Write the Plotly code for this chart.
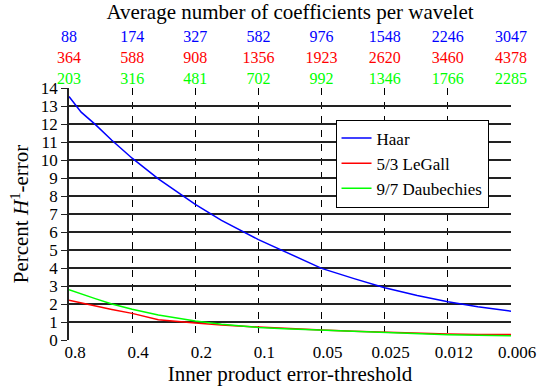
import numpy as np
import plotly.graph_objects as go

# thresholds at which the errors were measured
thresholds = [0.8, 0.7, 0.6, 0.5, 0.4, 0.3, 0.2, 0.15, 0.1, 0.075, 0.05,
              0.035, 0.025, 0.0175, 0.0125, 0.009, 0.00625]
haar = [13.53, 12.66, 11.98, 11.1, 10.1, 8.95, 7.53, 6.65, 5.58, 4.9, 3.98,
        3.41, 2.9, 2.47, 2.13, 1.85, 1.6]
legall = [2.21, 2.06, 1.9, 1.7, 1.48, 1.13, 0.95, 0.83, 0.72, 0.64, 0.56,
          0.49, 0.43, 0.38, 0.33, 0.31, 0.30]
daub = [2.79, 2.55, 2.3, 2.0, 1.71, 1.39, 1.06, 0.88, 0.70, 0.63, 0.55,
        0.48, 0.42, 0.35, 0.29, 0.26, 0.23]

# axis ticks
tick_vals = [0.8, 0.4, 0.2, 0.1, 0.05, 0.025, 0.0125, 0.00625]
tick_text = ["0.8", "0.4", "0.2", "0.1", "0.05", "0.025", "0.012", "0.006"]
haar_counts = [88, 174, 327, 582, 976, 1548, 2246, 3047]
legall_counts = [364, 588, 908, 1356, 1923, 2620, 3460, 4378]
daub_counts = [203, 316, 481, 702, 992, 1346, 1766, 2285]

BLUE, RED, GREEN = "#0000ff", "#ff0000", "#00ff00"
FONT = "Liberation Serif"


def f(size):
    return dict(family=FONT, size=size, color="black")


top_text = [
    f'<span style="color:{BLUE}">{a}</span><br>'
    f'<span style="color:{RED}">{b}</span><br>'
    f'<span style="color:{GREEN}">{c}</span>'
    for a, b, c in zip(haar_counts, legall_counts, daub_counts)
]

fig = go.Figure()
fig.add_trace(go.Scatter(x=thresholds, y=haar, mode="lines", name="Haar",
                         line=dict(color=BLUE, width=1.5)))
fig.add_trace(go.Scatter(x=thresholds, y=legall, mode="lines", name="5/3 LeGall",
                         line=dict(color=RED, width=1.5)))
fig.add_trace(go.Scatter(x=thresholds, y=daub, mode="lines", name="9/7 Daubechies",
                         line=dict(color=GREEN, width=1.5)))
# invisible trace to activate the top axis
fig.add_trace(go.Scatter(x=[0.8], y=[None], xaxis="x2", showlegend=False,
                         hoverinfo="skip"))

xr = [np.log10(0.8), np.log10(0.00625)]
fig.update_layout(
    width=548, height=389,
    margin=dict(l=69, r=33, t=81, b=41),
    paper_bgcolor="white", plot_bgcolor="white",
    font=f(16),
    xaxis=dict(type="log", range=xr, tickvals=tick_vals, ticktext=tick_text,
               showgrid=True, gridcolor="black", gridwidth=1.3,
               griddash="7px,7px", zeroline=False, showline=False,
               ticks="", tickfont=f(17), ticklabelshift=-6,
               title=dict(text="Inner product error-threshold",
                          font=f(21), standoff=0)),
    xaxis2=dict(type="log", range=xr, overlaying="x", side="top",
                tickvals=tick_vals, ticktext=top_text, showgrid=False,
                showline=False, ticks="", tickfont=f(16),
                title=dict(text="Average number of coefficients per wavelet",
                           font=f(21), standoff=2)),
    yaxis=dict(range=[0, 14], dtick=1, showgrid=True, gridcolor="#222222",
               gridwidth=1.5, zeroline=False, showline=True,
               linecolor="#222222", linewidth=1.5, ticks="outside",
               ticklen=6, tickcolor="#222222", tickfont=f(17),
               title=dict(text="Percent <i>H</i><sup>1</sup>-error",
                          font=f(21), standoff=6)),
    legend=dict(x=0.603, y=0.875, xanchor="left", yanchor="top",
                bgcolor="white", bordercolor="black", borderwidth=1,
                font=f(17), tracegroupgap=0, itemwidth=30),
    showlegend=True,
)

fig.write_html("out.html")
